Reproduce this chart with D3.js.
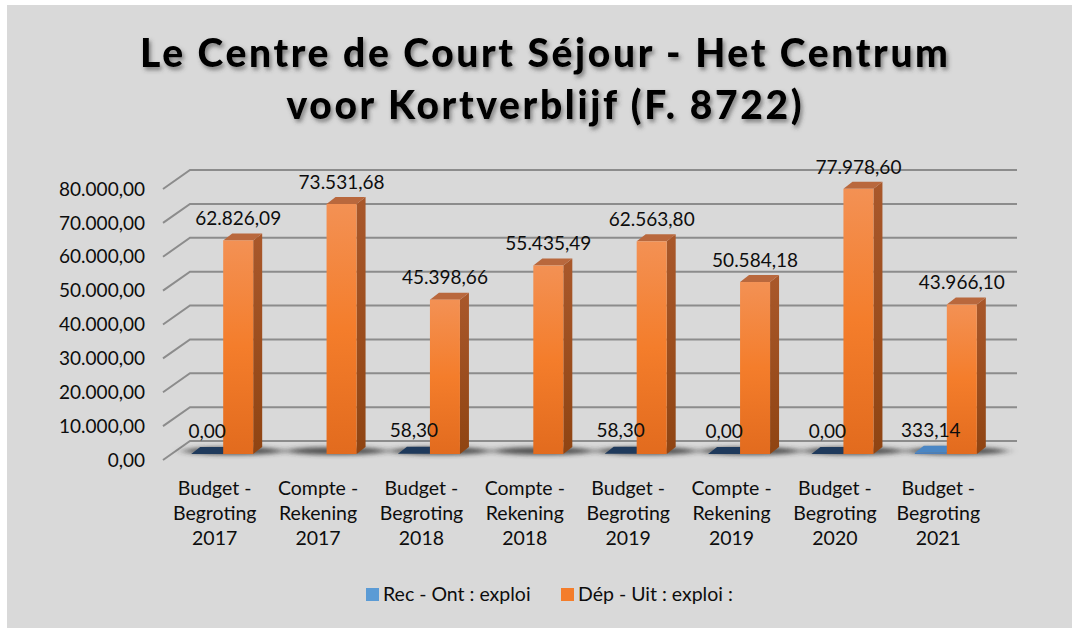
<!DOCTYPE html>
<html>
<head>
<meta charset="utf-8">
<script src="https://cdn.jsdelivr.net/npm/d3@7"></script>
<style>
  html, body { margin: 0; padding: 0; background: #fff; }
  svg { display: block; }
  text { font-family: Lato, "Open Sans", sans-serif; fill: #0d0d0d; }
</style>
</head>
<body>
<svg id="chart" width="1072" height="628"></svg>
<script>
// chart values
const titleLines = ["Le Centre de Court Séjour - Het Centrum", "voor Kortverblijf (F. 8722)"];
const categories = [
  ["Budget -", "Begroting", "2017"],
  ["Compte -", "Rekening", "2017"],
  ["Budget -", "Begroting", "2018"],
  ["Compte -", "Rekening", "2018"],
  ["Budget -", "Begroting", "2019"],
  ["Compte -", "Rekening", "2019"],
  ["Budget -", "Begroting", "2020"],
  ["Budget -", "Begroting", "2021"]
];
const seriesNames = ["Rec - Ont : exploi", "Dép - Uit : exploi :"];
const recValues = [0, null, 58.30, null, 58.30, 0, 0, 333.14];
const depValues = [62826.09, 73531.68, 45398.66, 55435.49, 62563.80, 50584.18, 77978.60, 43966.10];
const yTicks = [0, 10000, 20000, 30000, 40000, 50000, 60000, 70000, 80000];

const svg = d3.select("#chart");
const W = 1072, H = 628;

const locale = d3.formatLocale({ decimal: ",", thousands: ".", grouping: [3], currency: ["", ""] });
const fmt = locale.format(",.2f");

// background
svg.append("rect").attr("x", 7).attr("y", 5).attr("width", W - 7).attr("height", H - 5).attr("fill", "#d9d9d9");

const defs = svg.append("defs");
const tf = defs.append("filter").attr("id", "titleShadow").attr("x", "-10%").attr("y", "-30%").attr("width", "120%").attr("height", "160%");
tf.append("feDropShadow").attr("dx", 2).attr("dy", 3).attr("stdDeviation", 2)
  .attr("flood-color", "#404040").attr("flood-opacity", 0.6);

const sf = defs.append("filter").attr("id", "barShadow").attr("x", "-50%").attr("y", "-200%").attr("width", "200%").attr("height", "500%");
sf.append("feGaussianBlur").attr("stdDeviation", "6 2");

const gradFront = defs.append("linearGradient").attr("id", "orangeFront").attr("x1", 0).attr("y1", 0).attr("x2", 0).attr("y2", 1);
gradFront.append("stop").attr("offset", "0%").attr("stop-color", "#f39154");
gradFront.append("stop").attr("offset", "50%").attr("stop-color", "#f47d2b");
gradFront.append("stop").attr("offset", "100%").attr("stop-color", "#e26b1e");
const gradSide = defs.append("linearGradient").attr("id", "orangeSide").attr("x1", 0).attr("y1", 0).attr("x2", 0).attr("y2", 1);
gradSide.append("stop").attr("offset", "0%").attr("stop-color", "#a9582b");
gradSide.append("stop").attr("offset", "100%").attr("stop-color", "#8f4412");

// title
svg.append("g").attr("filter", "url(#titleShadow)")
  .selectAll("text").data(titleLines).join("text")
  .attr("x", 544)
  .attr("y", (d, i) => 67 + i * 52)
  .attr("text-anchor", "middle")
  .style("font-size", "39px")
  .style("font-weight", "900")
  .style("fill", "#000")
  .attr("textLength", (d, i) => i === 0 ? 808 : 515)
  .attr("lengthAdjust", "spacing")
  .text(d => d);

// scales
const x = d3.scaleBand().domain(d3.range(categories.length)).range([163, 990]);
const xSub = d3.scaleBand().domain([0, 1]).range([0, 60]);
const yFront = d3.scaleLinear().domain([0, 80000]).range([460, 189]);
const yBack = d3.scaleLinear().domain([0, 80000]).range([441, 170]);
const yBar = d3.scaleLinear().domain([0, 80000]).range([454, 182]);
const depthX = 27, backRight = 1017;
const dx = 9, dy = -7;

// gridlines (side wall diagonal + back wall)
const grid = svg.append("g");
grid.selectAll("path").data(yTicks).join("path")
  .attr("d", v => `M163,${yFront(v)}L${163 + depthX},${yBack(v)}H${backRight}`)
  .attr("fill", "none").attr("stroke", "#8c8c8c").attr("stroke-width", 2);

// y labels
svg.append("g").selectAll("text").data(yTicks).join("text")
  .attr("x", 145).attr("y", v => yFront(v)).attr("dy", "0.35em")
  .attr("text-anchor", "end").style("font-size", "19px")
  .text(v => fmt(v));

// bar shadows
const shadows = svg.append("g").attr("filter", "url(#barShadow)");
categories.forEach((c, i) => {
  const x0 = x(i) + x.bandwidth() / 2 + 8.5 - 30;
  shadows.append("ellipse")
    .attr("cx", x0 + 40).attr("cy", yBar(0) - 3)
    .attr("rx", 50).attr("ry", 4)
    .attr("fill", "#333").attr("opacity", 0.8);
});

// 3d boxes
function box(g, x0, w, yTop, yBot, cols) {
  g.append("path") // side
    .attr("d", `M${x0 + w},${yTop}L${x0 + w + dx},${yTop + dy}L${x0 + w + dx},${yBot + dy}L${x0 + w},${yBot}Z`)
    .attr("fill", cols.side);
  g.append("path") // top
    .attr("d", `M${x0},${yTop}L${x0 + w},${yTop}L${x0 + w + dx},${yTop + dy}L${x0 + dx},${yTop + dy}Z`)
    .attr("fill", cols.top);
  if (yBot - yTop > 0.5) {
    g.append("rect").attr("x", x0).attr("y", yTop).attr("width", w).attr("height", yBot - yTop)
      .attr("fill", cols.front);
  }
}

const bars = svg.append("g");
const labels = svg.append("g").style("font-size", "19px").attr("text-anchor", "middle");
categories.forEach((c, i) => {
  const left = x(i) + x.bandwidth() / 2 + 8.5 - 30;
  const w = xSub.bandwidth();
  const r = recValues[i];
  if (r !== null) {
    const x0 = left + xSub(0);
    const yt = yBar(r);
    const flat = yBar(0) - yt < 1;
    box(bars, x0 - 2, w + 2, yt, yBar(0), {
      front: "#4a7ebb",
      side: "#2c4f7a",
      top: flat ? "#1f3a5c" : "#4a86c4"
    });
    labels.append("text").attr("x", x0 + w / 2 - 1).attr("y", yt - 23).attr("dy", "0.35em").text(fmt(r));
  }
  const d = depValues[i];
  const x1 = left + xSub(1);
  box(bars, x1, w, yBar(d), yBar(0), { front: "url(#orangeFront)", side: "url(#orangeSide)", top: "#b9683d" });
  labels.append("text").attr("x", x1 + w / 2).attr("y", yBar(d) - 22).attr("dy", "0.35em").text(fmt(d));
});

// category labels
const cat = svg.append("g").style("font-size", "19.5px").attr("text-anchor", "middle");
categories.forEach((lines, i) => {
  const t = cat.append("text").attr("x", x(i) + x.bandwidth() / 2).attr("y", 488);
  lines.forEach((l, j) => {
    t.append("tspan").attr("x", x(i) + x.bandwidth() / 2).attr("dy", j === 0 ? "0.35em" : 25).text(l);
  });
});

// legend
const legendColors = ["#5b9bd5", "#f47d2b"];
const legendX = [366, 561];
const lg = svg.append("g").style("font-size", "19.5px");
seriesNames.forEach((n, i) => {
  lg.append("rect").attr("x", legendX[i]).attr("y", 588).attr("width", 13).attr("height", 13).attr("fill", legendColors[i]);
  lg.append("text").attr("x", legendX[i] + 17).attr("y", 594.5).attr("dy", "0.35em").text(n);
});
</script>
</body>
</html>
